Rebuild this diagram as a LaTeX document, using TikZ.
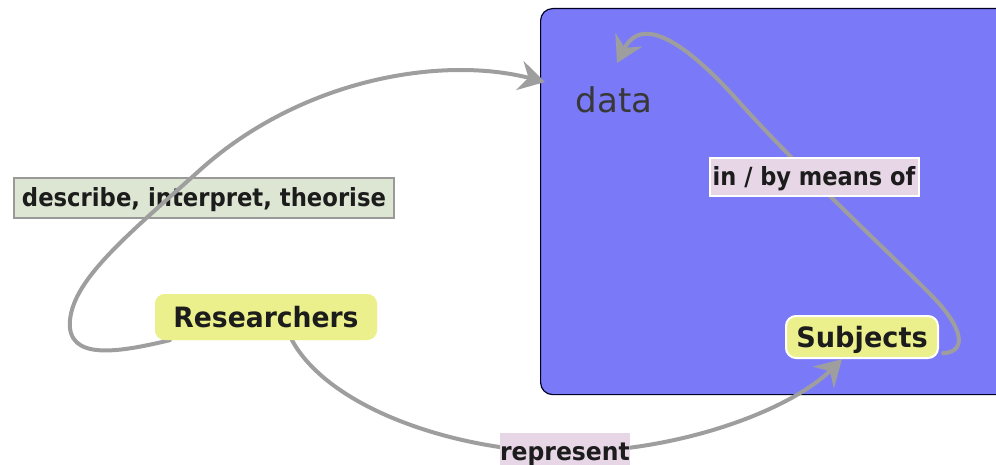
\documentclass[tikz,border=0pt]{standalone}
\usepackage{fontspec}
\usepackage{graphicx}
\setmainfont{DejaVu Sans}
\usetikzlibrary{arrows.meta}
\definecolor{boxblue}{RGB}{122,122,248}
\definecolor{nodey}{RGB}{236,240,140}
\definecolor{labg}{RGB}{220,230,210}
\definecolor{labp}{RGB}{230,214,230}
\definecolor{connc}{RGB}{158,158,158}
\definecolor{txt}{RGB}{28,28,28}
\tikzset{
  concept/.style={fill=nodey, rounded corners=10pt, inner sep=0pt, text=txt,
    font=\bfseries\fontsize{28}{30}\selectfont, text height=20pt, text depth=0pt},
  greenlab/.style={fill=labg, draw=black!40, line width=1.2pt, inner sep=0pt, text=txt,
    font=\bfseries\fontsize{25}{28}\selectfont, text height=18pt, text depth=0pt},
  pinklab/.style={fill=labp, inner sep=0pt, text=txt,
    font=\bfseries\fontsize{25}{28}\selectfont, text height=18pt, text depth=0pt},
  connect/.style={draw=connc, line width=4pt, line cap=round,
    -{Stealth[length=26pt,width=30pt,inset=9pt]}},
}
\begin{document}
\begin{tikzpicture}[x=1pt,y=-1pt]
\useasboundingbox (0,0) rectangle (996,465);
\begin{scope}
\clip (0,0) rectangle (996,465);
\node[draw=black!85!blue, fill=boxblue, rounded corners=12pt, line width=1.2pt,
  minimum width=480pt, minimum height=386pt, anchor=north west, inner sep=0pt] (area) at (540,8) {};
\node[text=black!78, font=\fontsize{34}{36}\selectfont] (data) at (614,100) {data};
\node[greenlab, minimum width=380pt, minimum height=40pt] (L1) at (204,198) {\scalebox{0.91}[1]{describe, interpret, theorise}};
\node[concept, minimum width=222pt, minimum height=46pt] (R) at (266,317) {\scalebox{0.95}[1]{Researchers}};
\node[concept, minimum width=152pt, minimum height=42pt] (S) at (862,337) {\scalebox{0.97}[1]{Subjects}};
\coordinate (atip) at (545,82);
\coordinate (dtip) at (617,63);
\draw[connect] ([xshift=15pt]R.south west) .. controls (120,352) and (66,362) .. (70,320)
  .. controls (74,278) and (130,233) .. (200,170)
  .. controls (300,80) and (440,55) .. (atip);
\draw[connect] ([xshift=26pt]R.south) .. controls (330,410) and (460,452) .. (565,452)
  .. controls (680,452) and (790,410) .. ([xshift=-20pt,yshift=-1pt]S.south);
\draw[connect] ([xshift=5pt,yshift=5pt]S.south east) .. controls (966,352) and (965,330) .. (933,297)
  .. controls (900,263) and (800,170) .. (740,103)
  .. controls (700,58) and (645,8) .. (dtip);
\node[pinklab, draw=white, line width=2pt, minimum width=209pt, minimum height=38pt] (L3) at (814,177) {\scalebox{0.9}[1]{in / by means of}};
\node[pinklab, minimum width=126pt, minimum height=37pt] (L2) at (565,451) {\scalebox{0.94}[1]{represent}};
\node[concept, draw=white, line width=2pt, minimum width=152pt, minimum height=42pt] at (S) {\scalebox{0.97}[1]{Subjects}};
\node[concept, minimum width=222pt, minimum height=46pt] at (R) {\scalebox{0.95}[1]{Researchers}};
\end{scope}
\end{tikzpicture}
\end{document}
